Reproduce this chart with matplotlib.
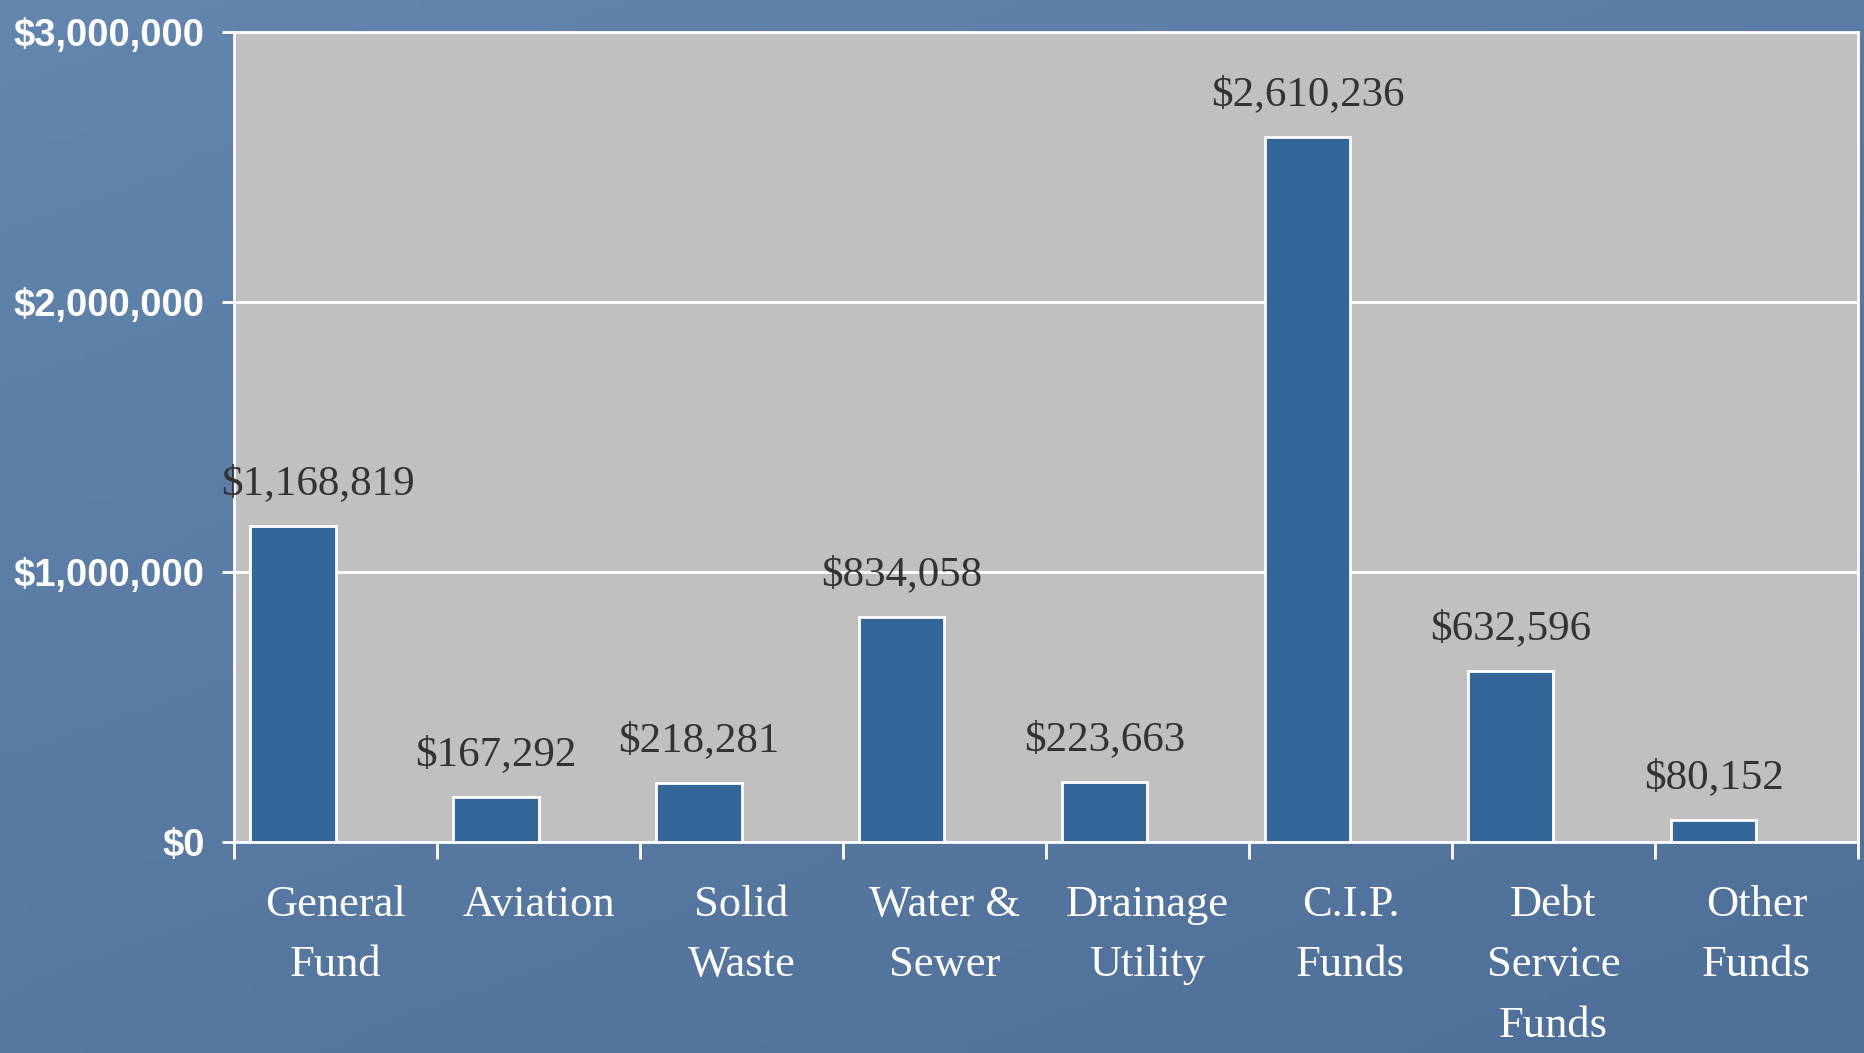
#!/usr/bin/env python3
'''Bar chart of fund amounts by category, slide style.'''
import numpy as np
import matplotlib.pyplot as plt
from matplotlib.colors import LinearSegmentedColormap
from matplotlib.ticker import FuncFormatter

# data
categories = ['General\nFund', 'Aviation', 'Solid\nWaste', 'Water &\nSewer',
              'Drainage\nUtility', 'C.I.P.\nFunds', 'Debt\nService\nFunds',
              'Other\nFunds']
amounts = [1168819, 167292, 218281, 834058, 223663, 2610236, 632596, 80152]
yticks = [0, 1000000, 2000000, 3000000]

plot_color = '#C0C0C0'
bar_color = '#336699'

fig = plt.figure(figsize=(18.65, 10.53), dpi=100)
fig.patch.set_facecolor('#5878A0')

# slide background: soft blue gradient
bg = fig.add_axes([0, 0, 1, 1], zorder=-1)
gx, gy = np.meshgrid(np.linspace(0, 1, 200), np.linspace(0, 1, 120))
shade = 0.6 * gy + 0.4 * (1 - gx)
cmap = LinearSegmentedColormap.from_list('slide', ['#4E6F97', '#6386AE'])
bg.imshow(shade, cmap=cmap, aspect='auto', origin='lower',
          extent=[0, 1, 0, 1])
bg.axis('off')

ax = fig.add_axes([0.1255, 0.2004, 0.8707, 0.7692])
ax.set_facecolor(plot_color)

n = len(categories)
xpos = [i - 0.21 for i in range(n)]
bars = ax.bar(xpos, amounts, width=0.42, color=bar_color,
              edgecolor='white', linewidth=2, zorder=3)

# value labels above bars
for i, (b, v) in enumerate(zip(bars, amounts)):
    dx = 18 if i == 0 else 0
    ax.annotate(f'${v:,}', xy=(b.get_x() + b.get_width() / 2, v),
                xytext=(dx, 23), textcoords='offset points',
                ha='center', va='baseline', fontsize=31,
                family='Liberation Serif', color='#333333', zorder=4)

ax.set_xlim(-0.5, n - 0.5)
ax.set_ylim(0, 3000000)

# y axis
ax.set_yticks(yticks)
ax.yaxis.set_major_formatter(FuncFormatter(lambda v, p: f'${v:,.0f}'))
ax.grid(axis='y', color='white', linewidth=2, zorder=1)
ax.tick_params(axis='y', colors='white', length=9, width=2, pad=12,
               labelsize=27.5)
for lbl in ax.get_yticklabels():
    lbl.set_fontweight('bold')
    lbl.set_family('Liberation Sans')

# x axis: tick marks between categories, labels at centres
ax.set_xticks([i - 0.5 for i in range(n + 1)])
ax.set_xticklabels([])
ax.set_xticks(list(range(n)), minor=True)
ax.set_xticklabels(categories, minor=True, fontsize=32,
                   family='Liberation Serif', color='white',
                   linespacing=1.66)
ax.tick_params(axis='x', which='major', colors='white', length=12, width=2)
ax.tick_params(axis='x', which='minor', length=0, pad=31)

for s in ax.spines.values():
    s.set_color('white')
    s.set_linewidth(2)

fig.savefig('out.png', dpi=100, facecolor=fig.get_facecolor())
